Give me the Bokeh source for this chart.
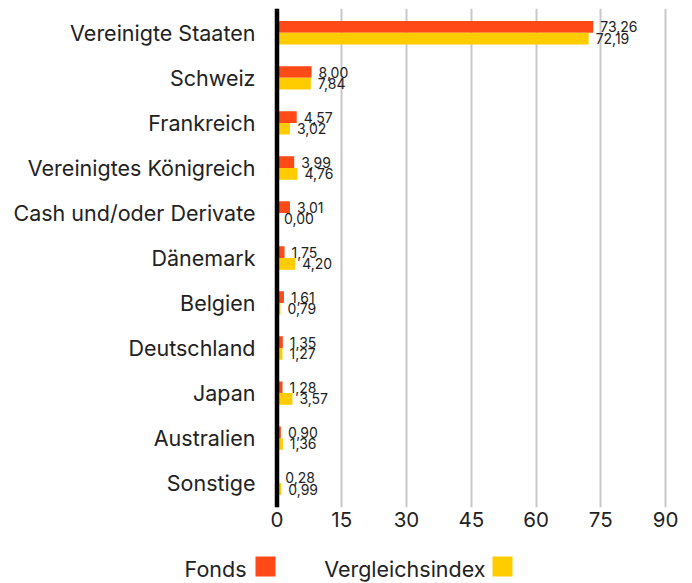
from bokeh.plotting import figure
from bokeh.models import (Range1d, FactorRange, ColumnDataSource, Span, FixedTicker, LabelSet)
from bokeh.layouts import column
from bokeh.transform import dodge
from bokeh.core.properties import value
from bokeh.embed import file_html
from bokeh.resources import INLINE

categories = ["Vereinigte Staaten", "Schweiz", "Frankreich", "Vereinigtes Königreich",
              "Cash und/oder Derivate", "Dänemark", "Belgien", "Deutschland",
              "Japan", "Australien", "Sonstige"]
fonds = [73.26, 8.00, 4.57, 3.99, 3.01, 1.75, 1.61, 1.35, 1.28, 0.90, 0.28]
vergleich = [72.19, 7.84, 3.02, 4.76, 0.00, 4.20, 0.79, 1.27, 3.57, 1.36, 0.99]
x_ticks = [0, 15, 30, 45, 60, 75, 90]
series_names = ["Fonds", "Vergleichsindex"]

FONT = "Inter"
ORANGE = "#FF4A17"
YELLOW = "#FFCC00"
TEXT = "#222222"

def de(v):
    return f"{v:.2f}".replace(".", ",")

src = ColumnDataSource(dict(
    cat=categories, fonds=fonds, vergleich=vergleich,
    fonds_lbl=[de(v) for v in fonds], vergleich_lbl=[de(v) for v in vergleich]))

W = 692
p = figure(width=W, height=543, output_backend="svg", toolbar_location=None,
           x_range=Range1d(-64.05, 96.25), y_axis_location=None,
           y_range=FactorRange(factors=list(reversed(categories)), range_padding=0.04,
                               range_padding_units="absolute"),
           min_border_left=0, min_border_right=0, min_border_top=8, min_border_bottom=36)
p.outline_line_color = None
p.background_fill_color = "white"
p.border_fill_color = "white"

p.hbar(y=dodge("cat", 0.13, range=p.y_range), right="fonds", left=0, height=0.26,
       source=src, color=ORANGE, line_color=None)
p.hbar(y=dodge("cat", -0.13, range=p.y_range), right="vergleich", left=0, height=0.26,
       source=src, color=YELLOW, line_color=None)

# category labels, right-aligned left of the zero line
p.text(x=0, y="cat", text="cat", source=src, x_offset=-21.5, text_align="right",
       text_baseline="middle", text_font=value(FONT), text_font_size="21.5px",
       text_color=TEXT)

for col, off in (("fonds", 0.13), ("vergleich", -0.13)):
    p.add_layout(LabelSet(x=col, y=dodge("cat", off, range=p.y_range), text=col + "_lbl",
                          source=src, x_offset=7, text_baseline="middle",
                          text_font=value(FONT), text_font_size="14px", text_color=TEXT))

p.add_layout(Span(location=0, dimension="height", line_color="black", line_width=4.5))

p.xaxis.ticker = FixedTicker(ticks=x_ticks)
p.xgrid.ticker = FixedTicker(ticks=x_ticks)
p.xgrid.grid_line_color = "#c8c8c8"
p.xgrid.grid_line_width = 2
p.ygrid.grid_line_color = None

ax = p.xaxis[0]
ax.axis_line_color = None
ax.major_tick_line_color = None
ax.minor_tick_line_color = None
ax.major_tick_out = 0
ax.major_label_text_font = FONT
ax.major_label_text_color = TEXT
ax.major_label_text_font_size = "20.5px"
ax.major_label_standoff = 4

# legend strip: label text followed by its colour square
lg = figure(width=W, height=40, output_backend="svg", toolbar_location=None,
            x_range=Range1d(0, W), y_range=Range1d(0, 40),
            x_axis_location=None, y_axis_location=None,
            min_border_left=0, min_border_right=0, min_border_top=0, min_border_bottom=0)
lg.grid.visible = False
lg.outline_line_color = None
lg.background_fill_color = "white"
lg.border_fill_color = "white"
leg_src = ColumnDataSource(dict(name=series_names, tx=[246, 485], sx=[265, 502],
                                color=[ORANGE, YELLOW]))
lg.text(x="tx", y=15, text="name", source=leg_src, text_align="right",
        text_baseline="middle", text_font=value(FONT), text_font_size="21.5px",
        text_color=TEXT)
lg.rect(x="sx", y=17, width=20, height=20, source=leg_src, color="color", line_color=None)

layout = column(p, lg, spacing=0)
open("out.html", "w").write(file_html(layout, INLINE))
